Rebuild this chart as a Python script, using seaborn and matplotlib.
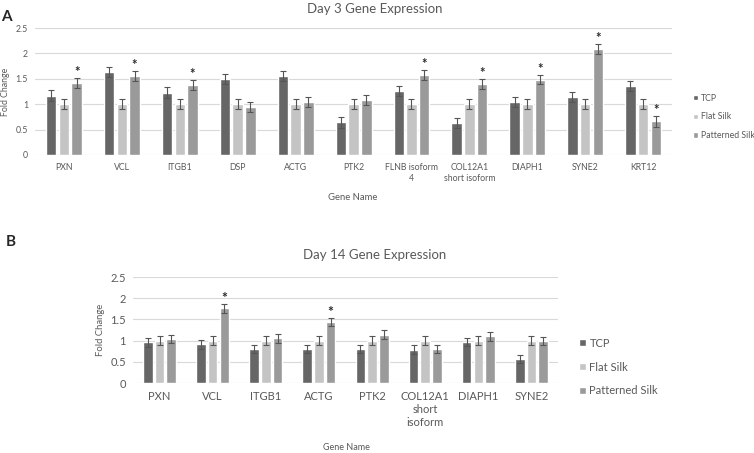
import numpy as np
import pandas as pd
import seaborn as sns
import matplotlib.pyplot as plt

# Day 3 data
genes_d3 = ["PXN", "VCL", "ITGB1", "DSP", "ACTG", "PTK2", "FLNB isoform 4",
            "COL12A1 short isoform", "DIAPH1", "SYNE2", "KRT12"]
labels_d3 = ["PXN", "VCL", "ITGB1", "DSP", "ACTG", "PTK2", "FLNB isoform\n4",
             "COL12A1\nshort isoform", "DIAPH1", "SYNE2", "KRT12"]
tcp_d3 = [1.17, 1.64, 1.23, 1.49, 1.55, 0.64, 1.26, 0.63, 1.05, 1.15, 1.36]
flat_d3 = [1.0] * 11
pat_d3 = [1.41, 1.56, 1.37, 0.94, 1.04, 1.09, 1.58, 1.40, 1.48, 2.08, 0.66]
tcp_err_d3 = [0.10, 0.10, 0.10, 0.10, 0.10, 0.10, 0.10, 0.10, 0.10, 0.10, 0.10]
flat_err_d3 = [0.10] * 11
pat_err_d3 = [0.10, 0.10, 0.10, 0.10, 0.10, 0.10, 0.10, 0.10, 0.09, 0.10, 0.10]
sig_d3 = [True, True, True, False, False, False, True, True, True, True, True]

# Day 14 data
genes_d14 = ["PXN", "VCL", "ITGB1", "ACTG", "PTK2", "COL12A1 short isoform", "DIAPH1", "SYNE2"]
labels_d14 = ["PXN", "VCL", "ITGB1", "ACTG", "PTK2", "COL12A1\nshort\nisoform", "DIAPH1", "SYNE2"]
tcp_d14 = [0.96, 0.91, 0.80, 0.80, 0.80, 0.79, 0.97, 0.57]
flat_d14 = [1.0] * 8
pat_d14 = [1.04, 1.76, 1.05, 1.445, 1.14, 0.80, 1.10, 0.99]
tcp_err_d14 = [0.10] * 8
flat_err_d14 = [0.10] * 8
pat_err_d14 = [0.10, 0.10, 0.10, 0.10, 0.10, 0.10, 0.10, 0.10]
sig_d14 = [False, True, False, True, False, False, False, False]

conditions = ["TCP", "Flat Silk", "Patterned Silk"]
colors = ["#666666", "#c4c4c4", "#9a9a9a"]

sns.set_style("white")
plt.rcParams['font.family'] = ['Lato', 'DejaVu Sans']
txt = "#595959"


def panel(ax, genes, labels, vals, errs, sig, title, title_x, tick_fs, ytick_fs,
          ylab_fs, star_fs, leg_fs, leg_pos, leg_space, title_pad):
    df = pd.DataFrame({
        "gene": np.tile(genes, 3),
        "cond": np.repeat(conditions, len(genes)),
        "val": np.concatenate(vals),
    })
    sns.barplot(data=df, x="gene", y="val", hue="cond", palette=colors,
                width=0.66, gap=0.18, errorbar=None, ax=ax, zorder=3)
    # error bars + significance stars, placed from the bar patches
    bars = list(ax.containers)
    for ci, cont in enumerate(bars):
        for j, p in enumerate(cont.patches):
            xc = p.get_x() + p.get_width() / 2
            e = errs[ci][j]
            ax.errorbar(xc, p.get_height(), yerr=e, color="#555555", lw=0.8,
                        capsize=2.5, capthick=0.8, zorder=4)
            if ci == 2 and sig[j]:
                ax.text(xc, p.get_height() + e + 0.0, "*", ha="center", va="bottom",
                        fontsize=star_fs, fontweight="bold", color="#262626")
    ax.set_ylim(0, 2.5)
    ax.set_yticks([0, 0.5, 1, 1.5, 2, 2.5])
    ax.set_yticklabels(["0", "0.5", "1", "1.5", "2", "2.5"])
    ax.set_xticks(range(len(genes)))
    ax.set_xticklabels(labels)
    ax.tick_params(axis="x", length=0, labelsize=tick_fs, colors=txt, pad=6)
    ax.tick_params(axis="y", length=0, labelsize=ytick_fs, colors=txt, pad=5)
    ax.grid(axis="y", color="#d9d9d9", lw=0.8, zorder=0)
    for s in ax.spines.values():
        s.set_visible(False)
    ax.set_xlabel("")
    ax.set_ylabel("Fold Change", fontsize=ylab_fs, color=txt, labelpad=4)
    ax.set_title(title, fontsize=9.5, color=txt, pad=title_pad, x=title_x)
    h, l = ax.get_legend_handles_labels()
    ax.legend(h, l, loc="center left", bbox_to_anchor=leg_pos, frameon=False,
              fontsize=leg_fs, labelcolor=txt, handlelength=0.6, handleheight=0.6,
              handletextpad=0.3, labelspacing=leg_space, borderaxespad=0)


fig = plt.figure(figsize=(7.54, 4.53), dpi=100)

axA = fig.add_axes([0.0464, 0.658, 0.845, 0.280])
panel(axA, genes_d3, labels_d3, [tcp_d3, flat_d3, pat_d3],
      [tcp_err_d3, flat_err_d3, pat_err_d3], sig_d3,
      "Day 3 Gene Expression", 0.534, 6.3, 6.3, 6.3, 9.5, 6.3, (1.027, 0.30), 1.1, 11)
axA.set_xlim(-0.5, len(genes_d3) - 0.5)
fig.text(0.468, 0.565, "Gene Name", ha="center", va="center", fontsize=6.8, color=txt)
fig.text(0.002, 0.962, "A", fontsize=11, fontweight="bold", va="center")

axB = fig.add_axes([0.1764, 0.1545, 0.5637, 0.234])
panel(axB, genes_d14, labels_d14, [tcp_d14, flat_d14, pat_d14],
      [tcp_err_d14, flat_err_d14, pat_err_d14], sig_d14,
      "Day 14 Gene Expression", 0.569, 8, 8, 6.8, 10, 8, (1.04, 0.15), 1.15, 13)
axB.set_xlim(-0.5, len(genes_d14) - 0.5)
fig.text(0.46, 0.012, "Gene Name", ha="center", va="center", fontsize=6.5, color=txt)
fig.text(0.008, 0.466, "B", fontsize=11, fontweight="bold", va="center")

fig.savefig("out.png", dpi=100)
